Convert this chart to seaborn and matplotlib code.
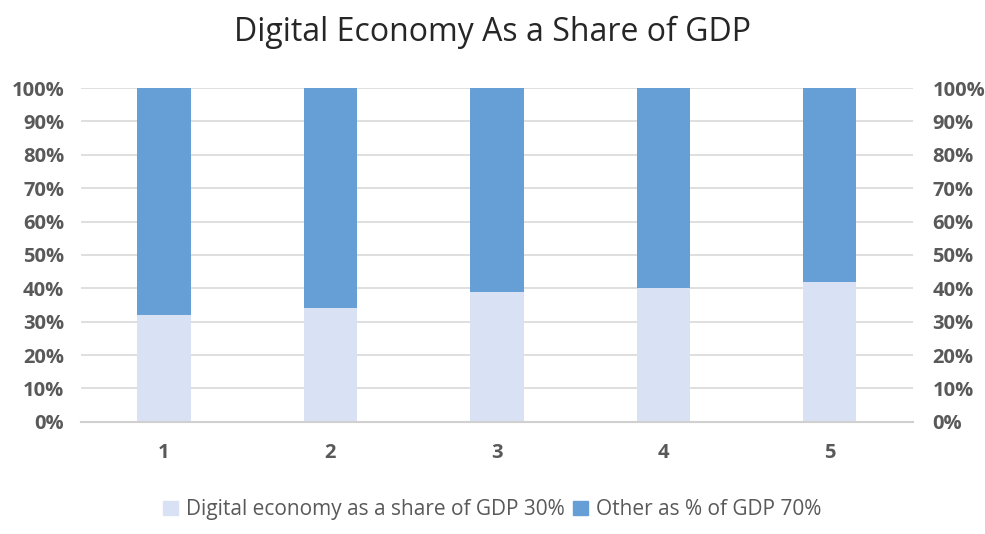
import numpy as np
import pandas as pd
import seaborn as sns
import matplotlib.pyplot as plt
from matplotlib.patches import Patch
from matplotlib.ticker import PercentFormatter

categories = ["1", "2", "3", "4", "5"]
digital_share = [32, 34, 39, 40, 42]
other_share = [68, 66, 61, 60, 58]

light_blue = "#D9E1F4"
dark_blue = "#659FD5"
text_grey = "#595959"

df = pd.DataFrame({"period": categories, "digital": digital_share, "other": other_share})

sns.set_style("white")
plt.rcParams["font.family"] = ["Open Sans", "DejaVu Sans"]

fig = plt.figure(figsize=(9.85, 5.34), dpi=100)
ax = fig.add_axes([0.082, 0.21, 0.845, 0.625])

sns.barplot(data=df, x="period", y="digital", color=light_blue, width=0.32,
            saturation=1, ax=ax, edgecolor="none")
sns.barplot(data=df, x="period", y="other", color=dark_blue, width=0.32,
            saturation=1, ax=ax, edgecolor="none", bottom=df["digital"])

ax.set_ylim(0, 100)
ax.set_xlim(-0.5, len(categories) - 0.5)
ax.set_yticks(np.arange(0, 101, 10))
ax.yaxis.set_major_formatter(PercentFormatter(decimals=0))
ax.set_xlabel("")
ax.set_ylabel("")
ax.grid(axis="y", color="#D9D9D9", linewidth=1.2)
ax.set_axisbelow(True)
for s in ["top", "left", "right"]:
    ax.spines[s].set_visible(False)
ax.spines["bottom"].set_color("#D0D0D0")
ax.spines["bottom"].set_linewidth(1.5)
ax.tick_params(axis="both", length=0, labelsize=14.5, labelcolor=text_grey)
ax.tick_params(axis="y", pad=12)
ax.tick_params(axis="x", pad=15)
for lbl in ax.get_xticklabels() + ax.get_yticklabels():
    lbl.set_fontweight("bold")

ax2 = ax.twinx()
ax2.set_ylim(0, 100)
ax2.set_yticks(np.arange(0, 101, 10))
ax2.yaxis.set_major_formatter(PercentFormatter(decimals=0))
for s in ["top", "left", "right", "bottom"]:
    ax2.spines[s].set_visible(False)
ax2.tick_params(axis="y", length=0, labelsize=14.5, labelcolor=text_grey, pad=14)
for lbl in ax2.get_yticklabels():
    lbl.set_fontweight("bold")

fig.suptitle("Digital Economy As a Share of GDP", y=0.97, fontsize=23, color="#262626")

handles = [Patch(color=light_blue, label="Digital economy as a share of GDP 30%"),
           Patch(color=dark_blue, label="Other as % of GDP 70%")]
leg = fig.legend(handles=handles, loc="center", bbox_to_anchor=(0.5, 0.045), ncol=2,
                 frameon=False, fontsize=15, handlelength=0.7, handleheight=0.7,
                 handletextpad=0.4, columnspacing=0.4)
for t in leg.get_texts():
    t.set_color(text_grey)

fig.savefig("out.png", dpi=100)
